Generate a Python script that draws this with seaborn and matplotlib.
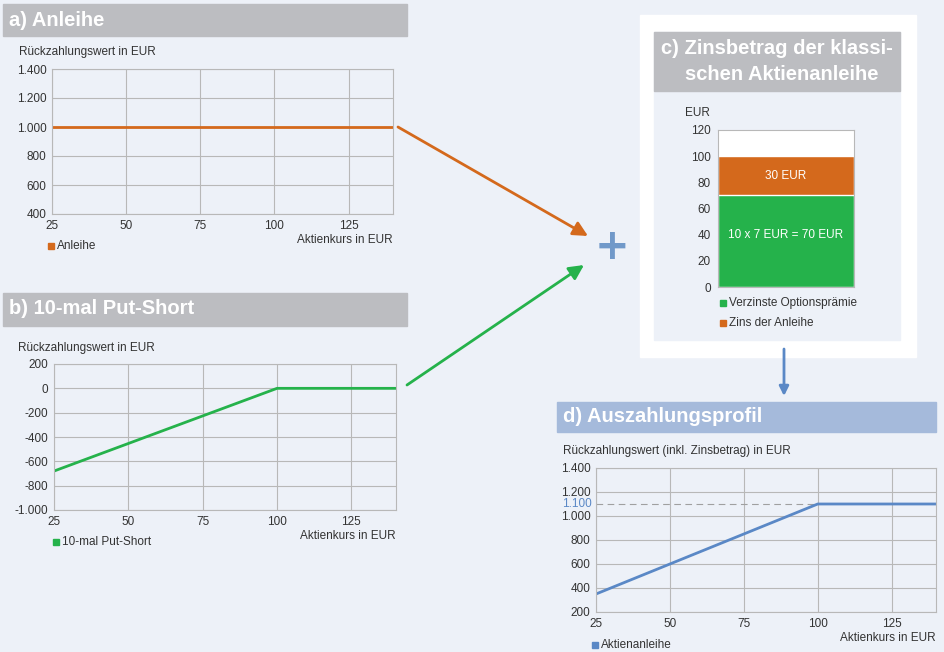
import numpy as np
import pandas as pd
import seaborn as sns
import matplotlib.pyplot as plt
from matplotlib.patches import Rectangle, FancyArrowPatch
from matplotlib.ticker import FuncFormatter

# data
kurs_a = [25, 50, 75, 100, 125, 140]
anleihe = [1000, 1000, 1000, 1000, 1000, 1000]
kurs_b = [25, 100, 140]
put_short = [-680, 0, 0]
kurs_d = [25, 100, 140]
aktienanleihe = [350, 1100, 1100]
bar_parts = ['Verzinste Optionsprämie', 'Zins der Anleihe']
bar_values = [70, 30]
x_ticks = [25, 50, 75, 100, 125]

sns.set_style("white")
plt.rcParams['font.family'] = ['Liberation Sans Narrow', 'Liberation Sans', 'DejaVu Sans']

W, H = 944, 652
BG = '#edf1f8'
GRAY_HEAD = '#bcbdc1'
BLUE_HEAD = '#a5badb'
ORANGE = '#d4691c'
GREEN = '#25b24b'
BLUE = '#5a88c6'
GRID = '#b8b8b8'
TXT = '#333333'
FS = 8.5      # small text
HFS = 14.5    # header text

fig = plt.figure(figsize=(9.44, 6.52), dpi=100, facecolor=BG)

bg = fig.add_axes([0, 0, 1, 1])
bg.set_xlim(0, W)
bg.set_ylim(H, 0)
bg.axis('off')


def box(x0, y0, x1, y1):
    return [x0 / W, 1 - y1 / H, (x1 - x0) / W, (y1 - y0) / H]


def de_fmt(v, pos=None):
    return f"{v:,.0f}".replace(",", ".")


def style_line_ax(ax, ylim, yticks):
    ax.set_facecolor('none')
    ax.set_xlim(25, 140)
    ax.set_ylim(*ylim)
    ax.set_xticks(x_ticks)
    ax.set_yticks(yticks)
    ax.yaxis.set_major_formatter(FuncFormatter(de_fmt))
    ax.grid(True, color=GRID, lw=0.8)
    for s in ax.spines.values():
        s.set_color(GRID)
        s.set_linewidth(0.8)
    ax.tick_params(length=0, labelsize=FS, colors=TXT, pad=4)
    ax.set_xlabel('')
    ax.set_ylabel('')


def legend_item(x, y, color, label):
    bg.add_patch(Rectangle((x, y - 3), 6, 6, color=color))
    bg.text(x + 9, y, label, fontsize=FS, color=TXT, va='center', ha='left')


# ---- a) Anleihe
bg.add_patch(Rectangle((3, 4), 404, 32, color=GRAY_HEAD))
bg.text(9, 20, 'a) Anleihe', fontsize=HFS, fontweight='bold', color='white', va='center')
bg.text(19, 52, 'Rückzahlungswert in EUR', fontsize=FS, color=TXT, va='center')
ax_a = fig.add_axes(box(52, 69, 393, 214))
sns.lineplot(x=kurs_a, y=anleihe, ax=ax_a, color=ORANGE, lw=2)
style_line_ax(ax_a, (400, 1400), range(400, 1401, 200))
legend_item(48, 246, ORANGE, 'Anleihe')
bg.text(393, 240, 'Aktienkurs in EUR', fontsize=FS, color=TXT, va='center', ha='right')

# ---- b) 10-mal Put-Short
bg.add_patch(Rectangle((3, 293), 404, 33, color=GRAY_HEAD))
bg.text(9, 309, 'b) 10-mal Put-Short', fontsize=HFS, fontweight='bold', color='white', va='center')
bg.text(18, 348, 'Rückzahlungswert in EUR', fontsize=FS, color=TXT, va='center')
ax_b = fig.add_axes(box(54, 364, 396, 510))
sns.lineplot(x=kurs_b, y=put_short, ax=ax_b, color=GREEN, lw=2)
style_line_ax(ax_b, (-1000, 200), range(-1000, 201, 200))
legend_item(53, 542, GREEN, '10-mal Put-Short')
bg.text(396, 536, 'Aktienkurs in EUR', fontsize=FS, color=TXT, va='center', ha='right')

# ---- c) Zinsbetrag
bg.add_patch(Rectangle((640, 15), 276, 342, color='white'))
bg.add_patch(Rectangle((654, 32), 246, 308, color=BG))
bg.add_patch(Rectangle((654, 32), 246, 59, color=GRAY_HEAD))
bg.text(777, 48, 'c) Zinsbetrag der klassi-', fontsize=HFS, fontweight='bold',
        color='white', va='center', ha='center')
bg.text(782, 75, 'schen Aktienanleihe', fontsize=HFS, fontweight='bold',
        color='white', va='center', ha='center')
bg.text(685, 113, 'EUR', fontsize=FS, color=TXT, va='center')
ax_c = fig.add_axes(box(718, 130, 854, 287))
ax_c.set_facecolor('white')
bar_df = pd.DataFrame({'kat': ['x', 'x'], 'teil': bar_parts,
                       'top': np.cumsum(bar_values)})
sns.barplot(data=bar_df.iloc[[1]], x='kat', y='top', ax=ax_c, color=ORANGE, width=1,
            saturation=1, errorbar=None)
sns.barplot(data=bar_df.iloc[[0]], x='kat', y='top', ax=ax_c, color=GREEN, width=1,
            saturation=1, errorbar=None)
ax_c.set_xlim(-0.5, 0.5)
ax_c.set_ylim(0, 120)
ax_c.set_yticks(range(0, 121, 20))
ax_c.set_xticks([])
ax_c.set_xlabel('')
ax_c.set_ylabel('')
ax_c.tick_params(length=0, labelsize=FS, colors=TXT, pad=5)
for s in ax_c.spines.values():
    s.set_color(GRID)
    s.set_linewidth(0.8)
ax_c.text(0, bar_values[0] + bar_values[1] / 2, f'{bar_values[1]} EUR', color='white',
          fontsize=FS, ha='center', va='center')
ax_c.text(0, bar_values[0] * 0.57, f'10 x 7 EUR = {bar_values[0]} EUR', color='white',
          fontsize=FS, ha='center', va='center')
legend_item(720, 303, GREEN, bar_parts[0])
legend_item(720, 323, ORANGE, bar_parts[1])

# ---- d) Auszahlungsprofil
bg.add_patch(Rectangle((557, 402), 379, 30, color=BLUE_HEAD))
bg.text(563, 417, 'd) Auszahlungsprofil', fontsize=HFS, fontweight='bold', color='white', va='center')
bg.text(563, 451, 'Rückzahlungswert (inkl. Zinsbetrag) in EUR', fontsize=FS, color=TXT, va='center')
ax_d = fig.add_axes(box(596, 468, 936, 612))
ax_d.axhline(1100, xmax=(100 - 25) / (140 - 25), color='#a0a0a0', lw=0.8, ls=(0, (6, 4)))
sns.lineplot(x=kurs_d, y=aktienanleihe, ax=ax_d, color=BLUE, lw=2)
style_line_ax(ax_d, (200, 1400), range(200, 1401, 200))
ax_d.text(-0.012, 1100, '1.100', transform=ax_d.get_yaxis_transform(), color=BLUE,
          fontsize=FS, ha='right', va='center')
legend_item(592, 645, BLUE, 'Aktienanleihe')
bg.text(936, 638, 'Aktienkurs in EUR', fontsize=FS, color=TXT, va='center', ha='right')

# ---- arrows and plus
for (x0, y0, x1, y1, c, ms) in [(398, 127, 588, 236, ORANGE, 22), (407, 385, 584, 265, GREEN, 22),
                                (784, 349, 784, 396, BLUE, 14)]:
    bg.add_patch(FancyArrowPatch((x0, y0), (x1, y1), arrowstyle='-|>', mutation_scale=ms,
                                 color=c, lw=2, shrinkA=0, shrinkB=0))
bg.text(612, 247, '+', fontsize=30, fontweight='bold', color='#7199c9', ha='center', va='center',
        family='DejaVu Sans')

fig.savefig('out.png', dpi=100, facecolor=BG)
